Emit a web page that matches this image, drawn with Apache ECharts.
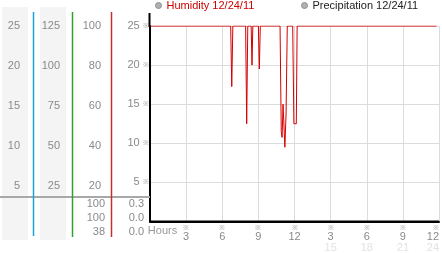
<!DOCTYPE html>
<html><head><meta charset="utf-8">
<script src="https://cdn.jsdelivr.net/npm/echarts@6/dist/echarts.min.js"></script>
<style>html,body{margin:0;padding:0;background:#fff}#c{width:442px;height:253px}</style>
</head><body><div id="c"></div>
<script>
// ---- data ----
const hours    = [0, 6.70, 6.79, 6.88, 7.94, 8.03, 8.12, 8.40, 8.47, 8.54, 9.00, 9.08, 9.16, 10.80, 10.90, 10.97, 11.05, 11.20, 11.30, 11.40, 11.85, 11.95, 12.15, 12.22, 23.80];
const humidity = [100, 100, 69, 100, 100, 50, 100, 100, 80, 100, 100, 78, 100, 100, 46, 43, 60, 38, 55, 100, 100, 50, 50, 100, 100];
const precipHours = [0, 24];
const precip = [0, 0];
const scale25Ticks = [5, 10, 15, 20, 25];
const scale125Ticks = [25, 50, 75, 100, 125];
const humTicks = [20, 40, 60, 80, 100];
const tableHum = ['100', '100', '38'];
const tablePrecip = ['0.3', '0.0', '0.0'];
const humName = 'Humidity 12/24/11';
const precName = 'Precipitation 12/24/11';
const xAxisName = 'Hours';

// ---- chart ----
const FONT = 'Liberation Sans, Arial, sans-serif';
const LBL = '#8a8a8a';
const chart = echarts.init(document.getElementById('c'), null, {renderer: 'canvas'});

function leftAxis(min, max, offset, ticks, margin) {
  return {
    type: 'value', gridIndex: 1, position: 'left', offset: offset, min: min, max: max,
    axisLine: {show: false},
    axisTick: {show: false}, splitLine: {show: false},
    axisLabel: {customValues: ticks, margin: margin, color: LBL, fontSize: 11, fontFamily: FONT,
      formatter: v => ticks.indexOf(v) >= 0 ? String(v) : ''}
  };
}

const graphics = [
  {type: 'rect', shape: {x: 2, y: 7, width: 26, height: 233}, style: {fill: '#f4f4f4'}, z: -10, silent: true},
  {type: 'rect', shape: {x: 40, y: 7, width: 26, height: 233}, style: {fill: '#f4f4f4'}, z: -10, silent: true},
  {type: 'line', shape: {x1: 0, y1: 197, x2: 150, y2: 197}, style: {stroke: '#a8a8a8', lineWidth: 2}, z: 5, silent: true},
  {type: 'line', shape: {x1: 33.5, y1: 12, x2: 33.5, y2: 236}, style: {stroke: '#1ea0d8', lineWidth: 1.5}, zlevel: 1, silent: true},
  {type: 'line', shape: {x1: 72.5, y1: 12, x2: 72.5, y2: 237}, style: {stroke: '#2ea02e', lineWidth: 1.5}, zlevel: 1, silent: true},
  {type: 'line', shape: {x1: 111.5, y1: 12, x2: 111.5, y2: 237}, style: {stroke: '#c03030', lineWidth: 1.5}, zlevel: 1, silent: true},
  {type: 'line', shape: {x1: 149.5, y1: 13, x2: 149.5, y2: 27}, style: {stroke: '#000', lineWidth: 2}, z: 5, silent: true}
];
tableHum.forEach((t, i) => graphics.push({type: 'text', x: 105, y: 204 + 14 * i, z: 6,
  style: {text: t, fill: LBL, font: '11px ' + FONT, textAlign: 'right', textVerticalAlign: 'middle'}}));
tablePrecip.forEach((t, i) => graphics.push({type: 'text', x: 144, y: 204 + 14 * i, z: 6,
  style: {text: t, fill: LBL, font: '11px ' + FONT, textAlign: 'right', textVerticalAlign: 'middle'}}));

const legendBase = {
  orient: 'horizontal', top: 0, padding: 0, icon: 'circle', itemWidth: 6, itemHeight: 6,
  itemStyle: {color: '#b0b0b0', borderColor: '#909090', borderWidth: 1},
  textStyle: {fontSize: 11, fontFamily: FONT}, selectedMode: false
};

const option = {
  animation: false,
  backgroundColor: '#fff',
  textStyle: {fontFamily: FONT},
  legend: [
    Object.assign({}, legendBase, {left: 155, data: [{name: humName, textStyle: {color: '#cc0000'}}]}),
    Object.assign({}, legendBase, {left: 301, data: [{name: precName, textStyle: {color: '#222'}}]})
  ],
  grid: [
    {left: 150, right: 3, top: 26, bottom: 28},
    {left: 111, width: 1, top: 12, bottom: 17}
  ],
  xAxis: [
    {type: 'value', gridIndex: 0, min: 0, max: 24, interval: 3,
     axisLine: {lineStyle: {color: '#000', width: 2}}, axisTick: {show: false},
     splitLine: {lineStyle: {color: '#dcdcdc', width: 1}},
     name: xAxisName, nameLocation: 'start', nameGap: 0,
     nameTextStyle: {align: 'left', verticalAlign: 'top', padding: [4, 0, 0, 6], color: '#999', fontSize: 11, fontFamily: FONT},
     axisLabel: {margin: 3, alignMaxLabel: 'right',
       formatter: v => {
         if (v === 0) return '';
         const h12 = v > 12 ? v - 12 : v;
         let s = '{m|※}\n{n|' + h12 + '}';
         if (v > 12) s += '\n{f|' + v + '}';
         return s;
       },
       rich: {
         m: {fontSize: 7, color: '#999', lineHeight: 7, fontFamily: FONT},
         n: {fontSize: 11, color: LBL, lineHeight: 10, fontFamily: FONT},
         f: {fontSize: 11, color: '#e2e2e2', lineHeight: 12, fontFamily: FONT}
       }}},
    {type: 'value', gridIndex: 1, show: false, min: 0, max: 1}
  ],
  yAxis: [
    {type: 'value', gridIndex: 0, min: 0, max: 100, interval: 20,
     axisLine: {show: true, lineStyle: {color: '#000', width: 2}}, axisTick: {show: false},
     splitLine: {lineStyle: {color: '#dcdcdc', width: 1}},
     axisLabel: {margin: 1,
       formatter: v => v === 0 ? '' : '{a|' + (v / 4) + '} {b|※}',
       rich: {a: {fontSize: 11, color: LBL, fontFamily: FONT}, b: {fontSize: 7, color: '#999', fontFamily: FONT}}}},
    leftAxis(-5, 107, 0, humTicks, 10),
    leftAxis(-6.25, 133.75, 39, scale125Ticks, 12),
    leftAxis(-1.25, 26.75, 78, scale25Ticks, 13)
  ],
  series: [
    {type: 'line', name: humName, xAxisIndex: 0, yAxisIndex: 0,
     data: hours.map((h, i) => [h, humidity[i]]),
     showSymbol: false, symbol: 'none', lineStyle: {color: '#d40000', width: 1}, itemStyle: {color: '#d40000'}, z: 3},
    {type: 'line', name: precName, xAxisIndex: 0, yAxisIndex: 0,
     data: precipHours.map((h, i) => [h, precip[i]]),
     showSymbol: false, symbol: 'none', lineStyle: {color: '#000', width: 2}, itemStyle: {color: '#000'}, z: 2}
  ],
  graphic: {elements: graphics}
};
chart.setOption(option);
</script>
</body></html>
